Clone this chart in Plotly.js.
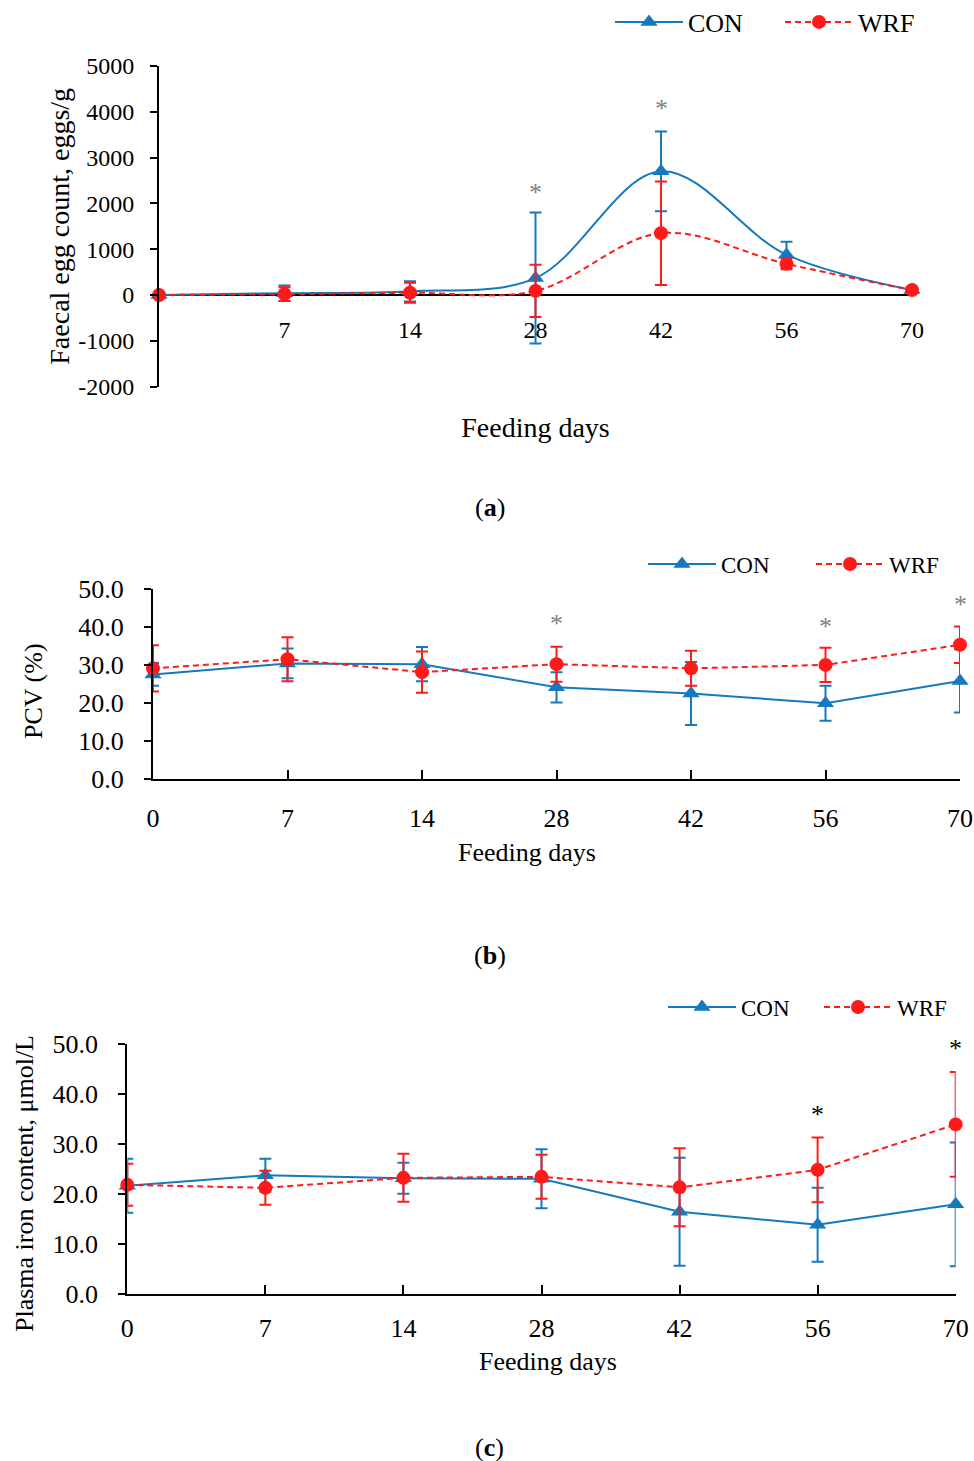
<!DOCTYPE html>
<html>
<head>
<meta charset="utf-8">
<script src="https://cdn.plot.ly/plotly-3.0.1.min.js"></script>
<style>html,body{margin:0;padding:0;background:#fff;}#chart{width:974px;height:1461px;}</style>
</head>
<body>
<div id="chart"></div>
<script>
// ---------- data ----------
const days = ["0", "7", "14", "28", "42", "56", "70"];
const seriesNames = ["CON", "WRF"];

// (a) Faecal egg count, eggs/g
const fecCON = [0, 40, 80, 370, 2700, 880, 110];
const fecCONErr = [20, 170, 220, 1430, 870, 285, 60];
const fecWRF = [0, 20, 50, 90, 1350, 680, 110];
const fecWRFErr = [20, 150, 220, 570, 1130, 120, 50];
const fecTicks = [-2000, -1000, 0, 1000, 2000, 3000, 4000, 5000];
const fecSigDays = ["28", "42"];
const fecSigY = [2230, 4080];

// (b) PCV (%)
const pcvCON = [27.6, 30.5, 30.3, 24.2, 22.6, 20.0, 25.9];
const pcvCONErr = [3.0, 3.9, 4.5, 4.0, 8.3, 4.6, 8.3];
const pcvWRF = [29.2, 31.6, 28.2, 30.3, 29.2, 30.1, 35.4];
const pcvWRFErr = [6.1, 5.8, 5.4, 4.6, 4.6, 4.5, 4.8];
const pcvSigDays = ["28", "56", "70"];
const pcvSigY = [41.1, 40.3, 45.9];

// (c) Plasma iron content, µmol/L
const feCON = [21.6, 23.7, 23.1, 23.0, 16.4, 13.8, 17.9];
const feCONErr = [5.4, 3.3, 3.1, 5.9, 10.8, 7.4, 12.4];
const feWRF = [21.8, 21.2, 23.2, 23.4, 21.3, 24.8, 33.9];
const feWRFErr = [4.2, 3.4, 4.8, 4.4, 7.8, 6.5, 10.5];
const feSigDays = ["56", "70"];
const feSigY = [35.9, 49.0];

// ---------- styling ----------
const W = 974, H = 1461;
const FONT = "Liberation Serif, Times New Roman, serif";
const BLUE = "#1479BF";
const RED = "#FF1A1A";
const px = v => v / W;
const py = v => 1 - v / H;

function pair(xa, ya, con, conErr, wrf, wrfErr, legend, spline) {
  const shape = spline ? "spline" : "linear";
  return [
    {
      x: days, y: con, name: seriesNames[0], type: "scatter", mode: "lines+markers",
      xaxis: xa, yaxis: ya, legend: legend, cliponaxis: false,
      line: {color: BLUE, width: 2, shape: shape, smoothing: 1},
      marker: {symbol: "triangle-up", size: 15, color: BLUE},
      error_y: {type: "data", array: conErr, visible: true, color: BLUE, thickness: 2, width: 6}
    },
    {
      x: days, y: wrf, name: seriesNames[1], type: "scatter", mode: "lines+markers",
      xaxis: xa, yaxis: ya, legend: legend, cliponaxis: false,
      line: {color: RED, width: 2, dash: "6px,4px", shape: shape, smoothing: 1},
      marker: {symbol: "circle", size: 14, color: RED},
      error_y: {type: "data", array: wrfErr, visible: true, color: RED, thickness: 2, width: 6}
    }
  ];
}

const data = [].concat(
  pair("x", "y", fecCON, fecCONErr, fecWRF, fecWRFErr, "legend", true),
  pair("x2", "y2", pcvCON, pcvCONErr, pcvWRF, pcvWRFErr, "legend2", false),
  pair("x3", "y3", feCON, feCONErr, feWRF, feWRFErr, "legend3", false)
);

function stars(xa, ya, dd, yy, color) {
  return dd.map((d, i) => ({
    x: days.indexOf(d), y: yy[i], xref: xa, yref: ya, text: "*", showarrow: false,
    font: {family: FONT, size: 26, color: color}, yanchor: "middle"
  }));
}

function legendCfg(x, y, size, ew) {
  return {
    orientation: "h", x: x, y: y, xanchor: "left", yanchor: "middle",
    font: {family: FONT, size: size, color: "#000"}, bgcolor: "rgba(0,0,0,0)",
    itemwidth: 68, entrywidth: ew, entrywidthmode: "pixels", traceorder: "normal"
  };
}

const layout = {
  width: W, height: H,
  margin: {l: 0, r: 0, t: 0, b: 0, autoexpand: false},
  paper_bgcolor: "#fff", plot_bgcolor: "rgba(0,0,0,0)",
  showlegend: true,
  font: {family: FONT, color: "#000"},
  legend: legendCfg(px(610), py(22), 26, 87),
  legend2: legendCfg(px(643), py(564), 23, 85),
  legend3: legendCfg(px(663), py(1007), 23, 73),

  // ----- (a) -----
  xaxis: {
    type: "category", domain: [px(159), px(912)], range: [0, 6],
    anchor: "free", position: py(313), automargin: false,
    showline: false, ticks: "", showgrid: false, zeroline: false,
    tickvals: days.slice(1), ticktext: days.slice(1),
    tickfont: {family: FONT, size: 24, color: "#000"},
    title: {text: "Feeding days", font: {family: FONT, size: 28, color: "#000"}, standoff: 75}
  },
  yaxis: {
    domain: [py(386.6), py(66)], range: [-2000, 5000], anchor: "x", automargin: false,
    tickvals: fecTicks, ticktext: fecTicks.map(String),
    showline: true, linecolor: "#000", linewidth: 2,
    ticks: "outside", ticklen: 7, tickwidth: 2, tickcolor: "#000",
    showgrid: false, zeroline: true, zerolinecolor: "#000", zerolinewidth: 2.5,
    tickfont: {family: FONT, size: 24, color: "#000"}, ticklabelstandoff: 11,
    title: {text: "Faecal egg count, eggs/g", font: {family: FONT, size: 28, color: "#000"}, standoff: 0}
  },

  // ----- (b) -----
  xaxis2: {
    type: "category", domain: [px(153), px(960)], range: [0, 6], anchor: "y2", automargin: false,
    showline: true, linecolor: "#000", linewidth: 2,
    ticks: "inside", ticklen: 9, tickwidth: 2, tickcolor: "#000",
    showgrid: false, zeroline: false,
    tickfont: {family: FONT, size: 26, color: "#000"}, ticklabelstandoff: 14
  },
  yaxis2: {
    domain: [py(779.3), py(589.3)], range: [0, 50], dtick: 10, tickformat: ".1f", anchor: "x2", automargin: false,
    showline: true, linecolor: "#000", linewidth: 2,
    ticks: "outside", ticklen: 7, tickwidth: 2, tickcolor: "#000",
    showgrid: false, zeroline: false,
    tickfont: {family: FONT, size: 26, color: "#000"}, ticklabelstandoff: 15
  },

  // ----- (c) -----
  xaxis3: {
    type: "category", domain: [px(127.3), px(955.7)], range: [0, 6], anchor: "y3", automargin: false,
    showline: true, linecolor: "#000", linewidth: 2,
    ticks: "inside", ticklen: 9, tickwidth: 2, tickcolor: "#000",
    showgrid: false, zeroline: false,
    tickfont: {family: FONT, size: 26, color: "#000"}, ticklabelstandoff: 10
  },
  yaxis3: {
    domain: [py(1293.7), py(1044)], range: [0, 50], dtick: 10, tickformat: ".1f", anchor: "x3", automargin: false,
    showline: true, linecolor: "#000", linewidth: 2,
    ticks: "outside", ticklen: 7, tickwidth: 2, tickcolor: "#000",
    showgrid: false, zeroline: false,
    tickfont: {family: FONT, size: 26, color: "#000"}, ticklabelstandoff: 15
  },

  annotations: [].concat(
    stars("x", "y", fecSigDays, fecSigY, "#808080"),
    stars("x2", "y2", pcvSigDays, pcvSigY, "#808080"),
    stars("x3", "y3", feSigDays, feSigY, "#000"),
    [
      // axis titles of panels (b) and (c)
      {text: "Feeding days", x: px(527), y: py(852), xref: "paper", yref: "paper", showarrow: false, xanchor: "center", yanchor: "middle", font: {family: FONT, size: 26, color: "#000"}},
      {text: "PCV (%)", x: px(33), y: py(691), xref: "paper", yref: "paper", showarrow: false, textangle: -90, xanchor: "center", yanchor: "middle", font: {family: FONT, size: 26, color: "#000"}},
      {text: "Feeding days", x: px(548), y: py(1361), xref: "paper", yref: "paper", showarrow: false, xanchor: "center", yanchor: "middle", font: {family: FONT, size: 26, color: "#000"}},
      {text: "Plasma iron content, μmol/L", x: px(24), y: py(1184), xref: "paper", yref: "paper", showarrow: false, textangle: -90, xanchor: "center", yanchor: "middle", font: {family: FONT, size: 26, color: "#000"}},
      // panel labels
      {text: "(<b>a</b>)", x: px(490), y: py(507), xref: "paper", yref: "paper", showarrow: false, yanchor: "middle", font: {family: FONT, size: 26, color: "#000"}},
      {text: "(<b>b</b>)", x: px(490), y: py(955), xref: "paper", yref: "paper", showarrow: false, yanchor: "middle", font: {family: FONT, size: 26, color: "#000"}},
      {text: "(<b>c</b>)", x: px(490), y: py(1447), xref: "paper", yref: "paper", showarrow: false, yanchor: "middle", font: {family: FONT, size: 26, color: "#000"}}
    ]
  )
};

Plotly.newPlot("chart", data, layout, {displayModeBar: false, staticPlot: true});
</script>
</body>
</html>
